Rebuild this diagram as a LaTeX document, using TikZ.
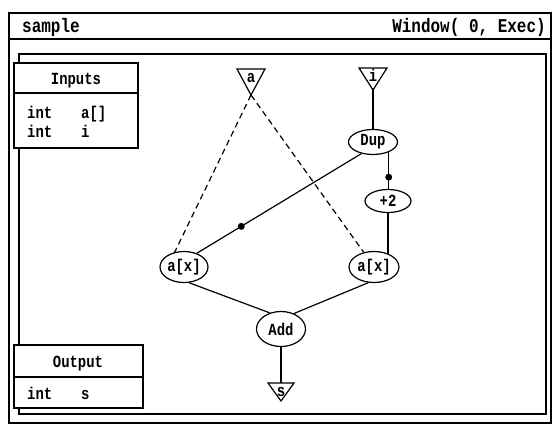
\documentclass[tikz,border=0pt]{standalone}
\usepackage{fontspec}
\setmonofont{Liberation Mono}[FakeStretch=0.82]
\usetikzlibrary{shapes.geometric}
\begin{document}
\begin{tikzpicture}[x=1pt,y=-1pt,
  txt/.style={font=\ttfamily\bfseries\fontsize{17}{17}\selectfont, inner sep=0pt},
  hdr/.style={font=\ttfamily\bfseries\fontsize{19.5}{19.5}\selectfont, inner sep=0pt},
  op/.style={ellipse, draw, line width=1.2pt, fill=white, txt, inner sep=0pt},
  edge/.style={line width=1.2pt},
  dashedge/.style={line width=1.2pt, dash pattern=on 6pt off 4pt},
  tri/.style={draw, line width=1.2pt, fill=white, line join=miter},
  panel/.style={draw, line width=1.3pt, fill=white},
  dotmark/.style={circle, fill=black, inner sep=0pt, minimum size=7pt}
]
\useasboundingbox (0,0) rectangle (552,426);
% outer window
\draw[line width=1.8pt] (9,13) rectangle (551,423);
\draw[line width=1.5pt] (9,39) -- (551,39);
\node[hdr, anchor=base west] (title) at (22,32) {sample};
\node[hdr, anchor=base east] (wintitle) at (546,32) {Window( 0, Exec)};
% inner frame
\draw[line width=1.4pt] (19,54) rectangle (546,414);

% Inputs panel
\draw[panel] (14,63) rectangle (138,148);
\draw[line width=1.3pt] (14,93) -- (138,93);
\node[txt, anchor=base] (inputs) at (76,84) {Inputs};
\node[txt, anchor=base west] (in1t) at (27,118) {int};
\node[txt, anchor=base west] (in1n) at (81,118) {a[]};
\node[txt, anchor=base west] (in2t) at (27,137) {int};
\node[txt, anchor=base west] (in2n) at (81,137) {i};

% Output panel
\draw[panel] (14,345) rectangle (143,408);
\draw[line width=1.3pt] (14,377) -- (143,377);
\node[txt, anchor=base] (output) at (78,367) {Output};
\node[txt, anchor=base west] (out1t) at (27,399) {int};
\node[txt, anchor=base west] (out1n) at (81,399) {s};

% input / output triangles
\draw[tri] (237,69) -- (265,69) -- (251,95) -- cycle;
\coordinate (aT) at (251,95);
\node[txt, anchor=base] (a) at (251,82) {a};
\draw[tri] (359,68) -- (387,68) -- (373,90) -- cycle;
\coordinate (jT) at (373,90);
\node[txt, anchor=base] (j) at (373,81) {i};
\draw[tri] (268,383) -- (294,383) -- (281,401) -- cycle;
\coordinate (sTop) at (281,383);
\node[txt, anchor=base] (s) at (281,396) {s};

% operation nodes
\node[op, minimum width=49pt, minimum height=25pt] (Dup) at (373,142) {Dup};
\node[op, minimum width=46pt, minimum height=23pt] (p2) at (388,201) {+2};
\node[op, minimum width=48pt, minimum height=31pt] (lax) at (184,267) {a[x]};
\node[op, minimum width=50pt, minimum height=31pt] (rax) at (374,267) {a[x]};
\node[op, minimum width=49pt, minimum height=35pt] (Add) at (281,329) {Add};

% connectors
\draw[dashedge] (aT) -- (lax.122);
\draw[dashedge] (aT) -- (rax.125);
\draw[edge] (jT) -- (Dup.north);
\draw[edge] (Dup.225) -- node[dotmark, pos=0.73] (d1) {} (lax.47);
\draw[edge] (Dup.-33) -- node[dotmark, pos=0.68] (d2) {} (Dup.-33 |- p2.north);
\draw[edge] (p2.south) -- (p2.south |- rax.42);
\draw[edge] (lax.-72) -- (Add.125);
\draw[edge] (rax.-110) -- (Add.50);
\draw[edge] (Add.south) -- (sTop);
\end{tikzpicture}
\end{document}
